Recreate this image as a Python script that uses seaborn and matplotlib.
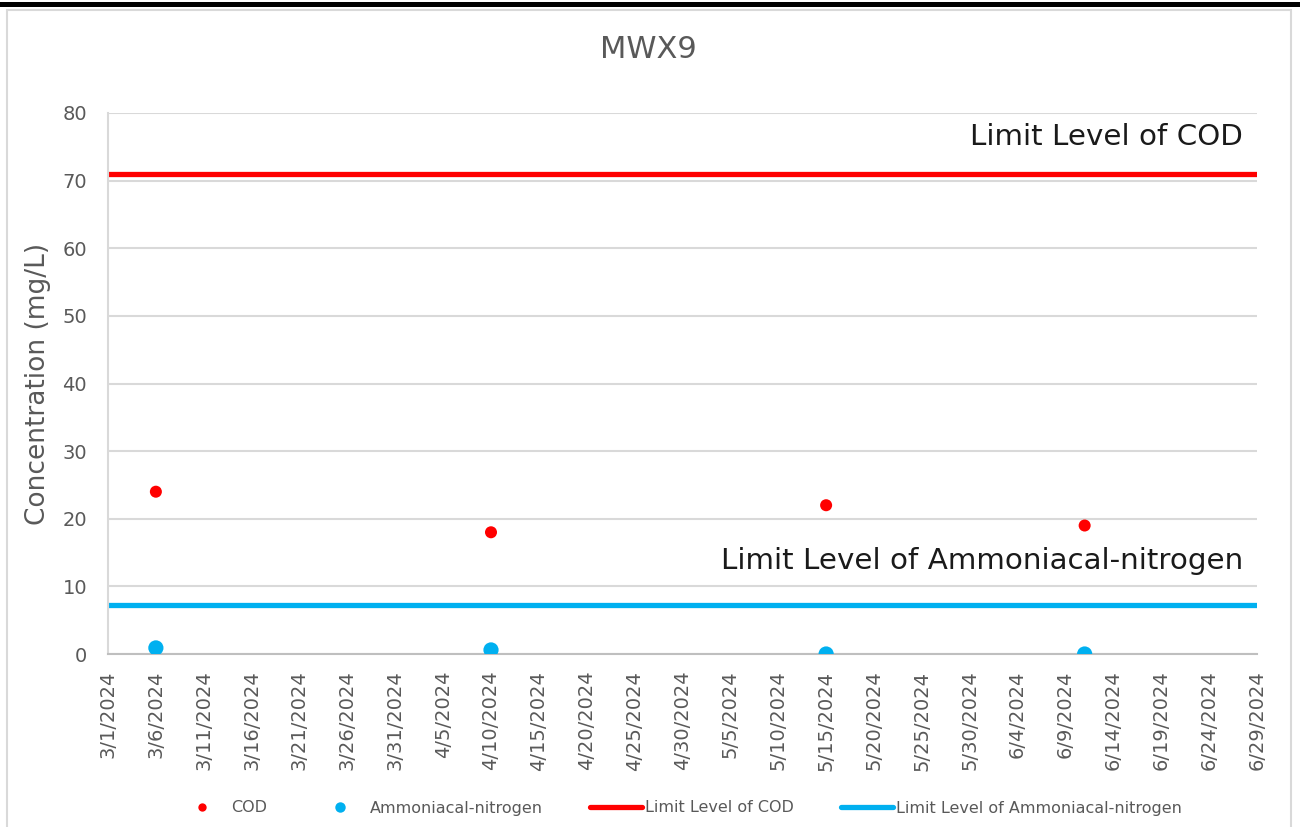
import pandas as pd
import matplotlib
matplotlib.use("Agg")
import matplotlib.pyplot as plt
from matplotlib.patches import Rectangle
from matplotlib.lines import Line2D
import seaborn as sns

# data
sample_dates = ["2024-03-06", "2024-04-10", "2024-05-15", "2024-06-11"]
cod = [24.0, 18.0, 22.0, 19.0]
ammonia = [0.9, 0.6, 0.0, 0.0]
cod_limit = 71.0
ammonia_limit = 7.3
x_start = "2024-03-01"
x_end = "2024-06-29"

df = pd.DataFrame({"date": pd.to_datetime(sample_dates), "COD": cod,
                   "Ammoniacal-nitrogen": ammonia})

sns.set_theme(style="white")
plt.rcParams['font.family'] = ['DejaVu Sans']

grey = "#595959"
red = "#ff0000"
blue = "#00b0f0"

fig = plt.figure(figsize=(13, 8.27), dpi=100)
ax = fig.add_axes([108 / 1300, 1 - 654 / 827, (1257 - 108) / 1300, (654 - 113) / 827])

ax.axhline(cod_limit, color=red, lw=3.8, zorder=2, solid_capstyle="round")
ax.axhline(ammonia_limit, color=blue, lw=3.8, zorder=2, solid_capstyle="round")
sns.scatterplot(data=df, x="date", y="COD", color=red, s=75, edgecolor="none", ax=ax, zorder=3)
sns.scatterplot(data=df, x="date", y="Ammoniacal-nitrogen", color=blue, s=120, edgecolor="none",
                ax=ax, zorder=3)

# axes
t0 = pd.Timestamp(x_start)
t1 = pd.Timestamp(x_end)
ax.set_xlim(t0, t1)
ax.set_ylim(0, 80)
ticks = pd.date_range(t0, t1, freq="5D")
ax.set_xticks(ticks)
ax.set_xticklabels([f"{d.month}/{d.day}/{d.year}" for d in ticks], rotation=90,
                   color=grey, fontsize=14)
ax.set_yticks(range(0, 81, 10))
ax.set_yticklabels([str(v) for v in range(0, 81, 10)], color=grey, fontsize=14)
ax.tick_params(axis="x", length=0, pad=12)
ax.tick_params(axis="y", length=0, pad=15)
ax.yaxis.grid(True, color="#d9d9d9", lw=1.5)
ax.set_axisbelow(True)
for s in ["top", "right"]:
    ax.spines[s].set_visible(False)
ax.spines["left"].set_color("#d9d9d9")
ax.spines["left"].set_linewidth(1.5)
ax.spines["bottom"].set_color("#bfbfbf")
ax.spines["bottom"].set_linewidth(1.5)
ax.set_xlabel("")
ax.set_ylabel("Concentration (mg/L)", fontsize=19, color=grey, labelpad=8)

# annotations
ax.text(1243 / 1300, 1 - 145 / 827, "Limit Level of COD", transform=fig.transFigure,
        ha="right", va="baseline", fontsize=21.2, color="#1a1a1a")
ax.text(1243 / 1300, 1 - 569 / 827, "Limit Level of Ammoniacal-nitrogen",
        transform=fig.transFigure, ha="right", va="baseline", fontsize=21.2, color="#1a1a1a")

fig.text(648 / 1300, 1 - 50 / 827, "MWX9", ha="center", va="center", fontsize=22, color=grey)

# legend
handles = [
    Line2D([], [], ls="none", marker="o", ms=6, color=red, mec="none"),
    Line2D([], [], ls="none", marker="o", ms=7.5, color=blue, mec="none"),
    Line2D([], [], color=red, lw=3.8),
    Line2D([], [], color=blue, lw=3.8),
]
labels = ["COD", "Ammoniacal-nitrogen", "Limit Level of COD", "Limit Level of Ammoniacal-nitrogen"]
leg = fig.legend(handles, labels, loc="center", bbox_to_anchor=(679 / 1300, 1 - 808 / 827),
                 ncol=4, frameon=False, fontsize=11.5, handlelength=3.25, columnspacing=2.95,
                 handletextpad=0.2)
for t in leg.get_texts():
    t.set_color(grey)

# chart frame and top bar
fig.patches.append(Rectangle((7 / 1300, -0.01), (1291 - 7) / 1300, 1 - 10 / 827 + 0.01,
                             transform=fig.transFigure, fill=False, ec="#d9d9d9", lw=1.5))
fig.patches.append(Rectangle((0, 1 - 7 / 827), 1, 5 / 827, transform=fig.transFigure,
                             fc="black", ec="none"))

fig.savefig("out.png", dpi=100)
